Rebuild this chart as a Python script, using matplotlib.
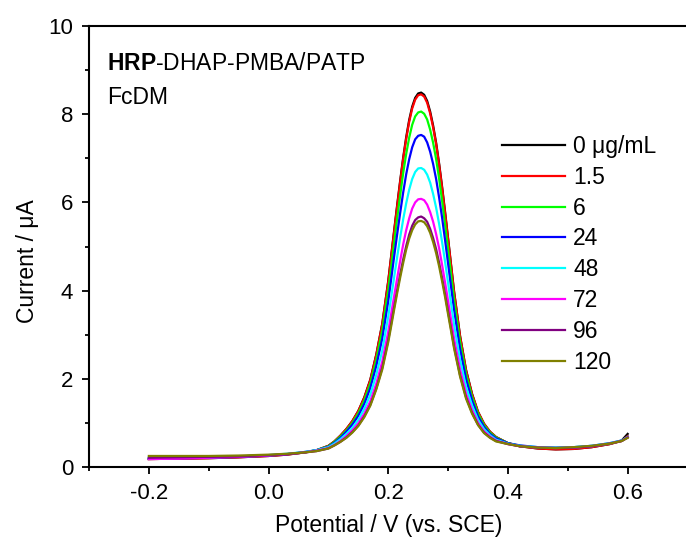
"""DPV curves of HRP-DHAP-PMBA/PATP electrode with FcDM."""
import matplotlib
matplotlib.use("Agg")
import matplotlib.pyplot as plt

plt.rcParams['font.family'] = ['Liberation Sans', 'DejaVu Sans']
plt.rcParams['mathtext.fontset'] = 'custom'
plt.rcParams['mathtext.rm'] = 'Liberation Sans'
plt.rcParams['mathtext.bf'] = 'Liberation Sans:bold'

# potential, V (vs. SCE)
potential = [-0.20, -0.15, -0.10, -0.05, 0.00, 0.03, 0.06, 0.08, 0.10, 0.11,
             0.12, 0.13, 0.14, 0.15, 0.16, 0.17, 0.18, 0.19,
             0.200, 0.205, 0.210, 0.215, 0.220, 0.225, 0.230, 0.235,
             0.240, 0.245, 0.250, 0.255, 0.260, 0.265, 0.270, 0.275,
             0.280, 0.285, 0.290, 0.295, 0.300, 0.305, 0.310,
             0.32, 0.33, 0.34, 0.35, 0.36, 0.37, 0.38,
             0.40, 0.42, 0.45, 0.48, 0.51, 0.54, 0.57, 0.59, 0.60]

# current, uA, for each concentration
cur_0 = [0.18, 0.19, 0.20, 0.22, 0.25, 0.28, 0.33, 0.38, 0.48, 0.58,
         0.71, 0.86, 1.04, 1.27, 1.58, 1.98, 2.55, 3.25,
         4.22, 4.80, 5.38, 5.95, 6.50, 7.02, 7.48, 7.87,
         8.17, 8.37, 8.47, 8.49, 8.44, 8.30, 8.06, 7.74,
         7.35, 6.88, 6.35, 5.78, 5.18, 4.58, 3.98,
         2.97, 2.20, 1.66, 1.25, 0.98, 0.80, 0.68,
         0.54, 0.47, 0.42, 0.40, 0.41, 0.45, 0.52, 0.60, 0.75]
cur_1_5 = [0.18, 0.19, 0.20, 0.22, 0.25, 0.28, 0.33, 0.38, 0.48, 0.58,
           0.71, 0.86, 1.04, 1.27, 1.57, 1.97, 2.54, 3.24,
           4.20, 4.78, 5.35, 5.92, 6.47, 6.99, 7.44, 7.83,
           8.13, 8.33, 8.43, 8.45, 8.40, 8.26, 8.02, 7.70,
           7.32, 6.85, 6.32, 5.75, 5.16, 4.56, 3.96,
           2.96, 2.19, 1.65, 1.25, 0.98, 0.80, 0.68,
           0.54, 0.47, 0.42, 0.40, 0.41, 0.45, 0.52, 0.59, 0.70]
cur_6 = [0.19, 0.20, 0.21, 0.23, 0.26, 0.29, 0.33, 0.38, 0.47, 0.57,
         0.69, 0.83, 1.00, 1.22, 1.51, 1.89, 2.43, 3.10,
         4.01, 4.56, 5.11, 5.65, 6.17, 6.67, 7.10, 7.47,
         7.76, 7.95, 8.04, 8.06, 8.01, 7.88, 7.65, 7.35,
         6.98, 6.54, 6.03, 5.49, 4.93, 4.36, 3.79,
         2.84, 2.11, 1.59, 1.21, 0.95, 0.78, 0.67,
         0.54, 0.48, 0.44, 0.43, 0.44, 0.47, 0.53, 0.59, 0.68]
cur_24 = [0.19, 0.20, 0.21, 0.23, 0.26, 0.29, 0.34, 0.38, 0.46, 0.55,
          0.66, 0.80, 0.96, 1.16, 1.43, 1.79, 2.29, 2.91,
          3.76, 4.27, 4.79, 5.29, 5.77, 6.23, 6.64, 6.98,
          7.25, 7.43, 7.51, 7.53, 7.49, 7.36, 7.15, 6.87,
          6.53, 6.11, 5.65, 5.14, 4.61, 4.08, 3.56,
          2.67, 1.99, 1.51, 1.15, 0.91, 0.75, 0.65,
          0.54, 0.49, 0.45, 0.44, 0.45, 0.48, 0.54, 0.60, 0.68]
cur_48 = [0.20, 0.21, 0.22, 0.24, 0.27, 0.30, 0.34, 0.38, 0.45, 0.53,
          0.63, 0.75, 0.89, 1.07, 1.32, 1.64, 2.09, 2.64,
          3.41, 3.86, 4.32, 4.77, 5.21, 5.62, 5.98, 6.29,
          6.53, 6.69, 6.77, 6.78, 6.74, 6.63, 6.45, 6.19,
          5.88, 5.51, 5.10, 4.65, 4.17, 3.70, 3.22,
          2.43, 1.82, 1.40, 1.07, 0.86, 0.72, 0.62,
          0.53, 0.48, 0.45, 0.44, 0.45, 0.48, 0.54, 0.60, 0.68]
cur_72 = [0.18, 0.19, 0.21, 0.23, 0.26, 0.29, 0.33, 0.37, 0.43, 0.50,
          0.59, 0.70, 0.83, 0.99, 1.21, 1.49, 1.89, 2.39,
          3.07, 3.48, 3.89, 4.29, 4.68, 5.05, 5.37, 5.64,
          5.86, 6.00, 6.07, 6.08, 6.05, 5.95, 5.78, 5.56,
          5.28, 4.96, 4.58, 4.18, 3.76, 3.34, 2.91,
          2.21, 1.66, 1.29, 1.00, 0.81, 0.69, 0.60,
          0.52, 0.47, 0.44, 0.43, 0.44, 0.47, 0.53, 0.59, 0.67]
cur_96 = [0.21, 0.22, 0.23, 0.24, 0.27, 0.29, 0.33, 0.36, 0.42, 0.49,
          0.57, 0.67, 0.79, 0.94, 1.15, 1.41, 1.78, 2.25,
          2.88, 3.26, 3.64, 4.01, 4.37, 4.71, 5.01, 5.27,
          5.47, 5.60, 5.66, 5.68, 5.64, 5.56, 5.40, 5.19,
          4.94, 4.63, 4.28, 3.91, 3.52, 3.13, 2.73,
          2.08, 1.58, 1.23, 0.96, 0.78, 0.67, 0.59,
          0.52, 0.47, 0.44, 0.43, 0.44, 0.47, 0.53, 0.59, 0.67]
cur_120 = [0.25, 0.25, 0.25, 0.26, 0.28, 0.30, 0.33, 0.36, 0.42, 0.49,
           0.57, 0.66, 0.78, 0.93, 1.13, 1.39, 1.76, 2.21,
           2.83, 3.20, 3.58, 3.95, 4.30, 4.63, 4.93, 5.18,
           5.37, 5.50, 5.57, 5.58, 5.55, 5.46, 5.31, 5.10,
           4.85, 4.55, 4.21, 3.85, 3.46, 3.08, 2.69,
           2.05, 1.55, 1.21, 0.95, 0.77, 0.66, 0.58,
           0.52, 0.47, 0.44, 0.43, 0.45, 0.48, 0.53, 0.59, 0.66]

labels = ['0 μg/mL', '1.5', '6', '24', '48', '72', '96', '120']
currents = [cur_0, cur_1_5, cur_6, cur_24, cur_48, cur_72, cur_96, cur_120]
colors = ['#000000', '#ff0000', '#00ff00', '#0000ff', '#00ffff',
          '#ff00ff', '#800080', '#808000']

W, H = 686, 546
fig = plt.figure(figsize=(W / 100, H / 100), dpi=100)
ax = fig.add_axes([89 / W, 79 / H, 598.5 / W, 441 / H])

for cur, col, lab in zip(currents, colors, labels):
    ax.plot(potential, cur, color=col, linewidth=1.6, label=lab,
            solid_joinstyle='round')

ax.set_xlim(-0.3, 0.7)
ax.set_ylim(0, 10)
ax.set_xticks([-0.2, 0.0, 0.2, 0.4, 0.6])
ax.set_xticklabels(['-0.2', '0.0', '0.2', '0.4', '0.6'])
ax.set_xticks([-0.3, -0.1, 0.1, 0.3, 0.5, 0.7], minor=True)
ax.set_yticks([0, 2, 4, 6, 8, 10])
ax.set_yticks([1, 3, 5, 7, 9], minor=True)

for side in ax.spines.values():
    side.set_linewidth(1.5)
ax.spines['right'].set_visible(False)
ax.tick_params(which='major', direction='out', length=5, width=1.3,
               labelsize=16, pad=6.5)
ax.tick_params(which='minor', direction='out', length=3, width=1.3)

ax.set_xlabel('Potential / V (vs. SCE)', fontsize=16.5, labelpad=7)
ax.set_ylabel('Current / μA', fontsize=16.5)
ax.yaxis.set_label_coords(-0.0835, 0.467)

fig.text(107 / W, 1 - 70 / H, r'$\mathbf{HRP}$-DHAP-PMBA/PATP',
         fontsize=16.5, va='baseline', ha='left')
fig.text(107 / W, 1 - 104 / H, 'FcDM', fontsize=16.5, va='baseline', ha='left')

ax.legend(loc='upper left', bbox_to_anchor=(502 / W, 1 - 135 / H),
          bbox_transform=fig.transFigure, frameon=False, fontsize=16.5,
          handlelength=2.75, handletextpad=0.35, labelspacing=0.34,
          borderpad=0, borderaxespad=0)

fig.savefig('out.png', dpi=100, facecolor='white')
